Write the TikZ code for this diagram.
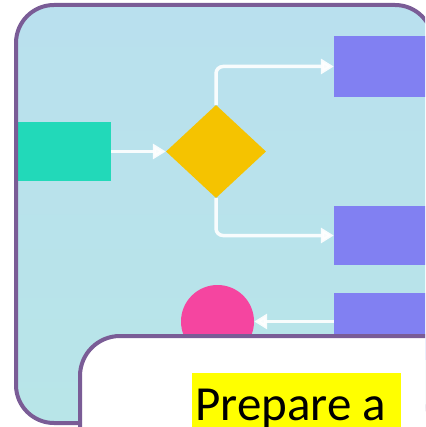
\documentclass[tikz,border=0pt]{standalone}
\usepackage{fontspec}
\setmainfont{Carlito}
\usetikzlibrary{arrows.meta,shapes.geometric}
\definecolor{framepurple}{HTML}{7A5C96}
\definecolor{skyfill}{HTML}{B9E0EE}
\definecolor{skylow}{HTML}{B8E5E8}
\definecolor{tealbox}{HTML}{22D9B9}
\definecolor{goldbox}{HTML}{F5C300}
\definecolor{violetbox}{HTML}{8180F2}
\definecolor{pinkdot}{HTML}{F545A0}
\definecolor{markyellow}{HTML}{FFFF00}
\tikzset{
  panel/.style={draw=framepurple, line width=4pt},
  block/.style={rectangle, draw=none, inner sep=0pt},
  flow/.style={draw=white, opacity=0.9, line width=3.5pt,
    -{Triangle[length=13pt,width=15pt]}},
}
\begin{document}
\begin{tikzpicture}[x=1pt,y=-1pt]
\useasboundingbox (0,0) rectangle (425,427);
\clip (0,0) rectangle (425,427);

% outer rounded panel: fill first, outline after the blocks
\path[top color=skyfill, bottom color=skylow, rounded corners=38pt]
  (16,5) rectangle (433,423);

% flowchart blocks
\node[block, fill=tealbox, minimum width=97pt, minimum height=59pt] (start) at (62.5,151.5) {};
\node[diamond, fill=goldbox, inner sep=0pt, minimum width=100pt, minimum height=93pt] (choice) at (216,151.5) {};
\node[block, fill=violetbox, minimum width=106pt, minimum height=61pt] (upper) at (387,66.5) {};
\node[block, fill=violetbox, minimum width=106pt, minimum height=59pt] (lower) at (387,235.5) {};
\node[block, fill=violetbox, minimum width=106pt, minimum height=67pt] (third) at (387,326.5) {};
\node[circle, fill=pinkdot, inner sep=0pt, minimum size=73pt] (dot) at (217.5,321.5) {};

% connectors
\draw[flow] (start.east) -- (choice.west);
\draw[flow, rounded corners=7pt] (choice.north) |- (upper.west);
\draw[flow, rounded corners=7pt] (choice.south) |- (lower.west);
\coordinate (tail) at (third.west |- dot.east);
\draw[flow] (tail) -- (dot.east);

% outer panel outline
\draw[panel, rounded corners=38pt] (16,5) rectangle (433,423);

% white caption card
\draw[panel, fill=white, rounded corners=40pt] (80,336) rectangle (480,490);
\fill[markyellow] (192,373) rectangle (401,430);
\node[anchor=base west, inner sep=0pt, font=\fontsize{49}{58}\selectfont] (caption) at (195,420) {Prepare a};
\end{tikzpicture}
\end{document}
